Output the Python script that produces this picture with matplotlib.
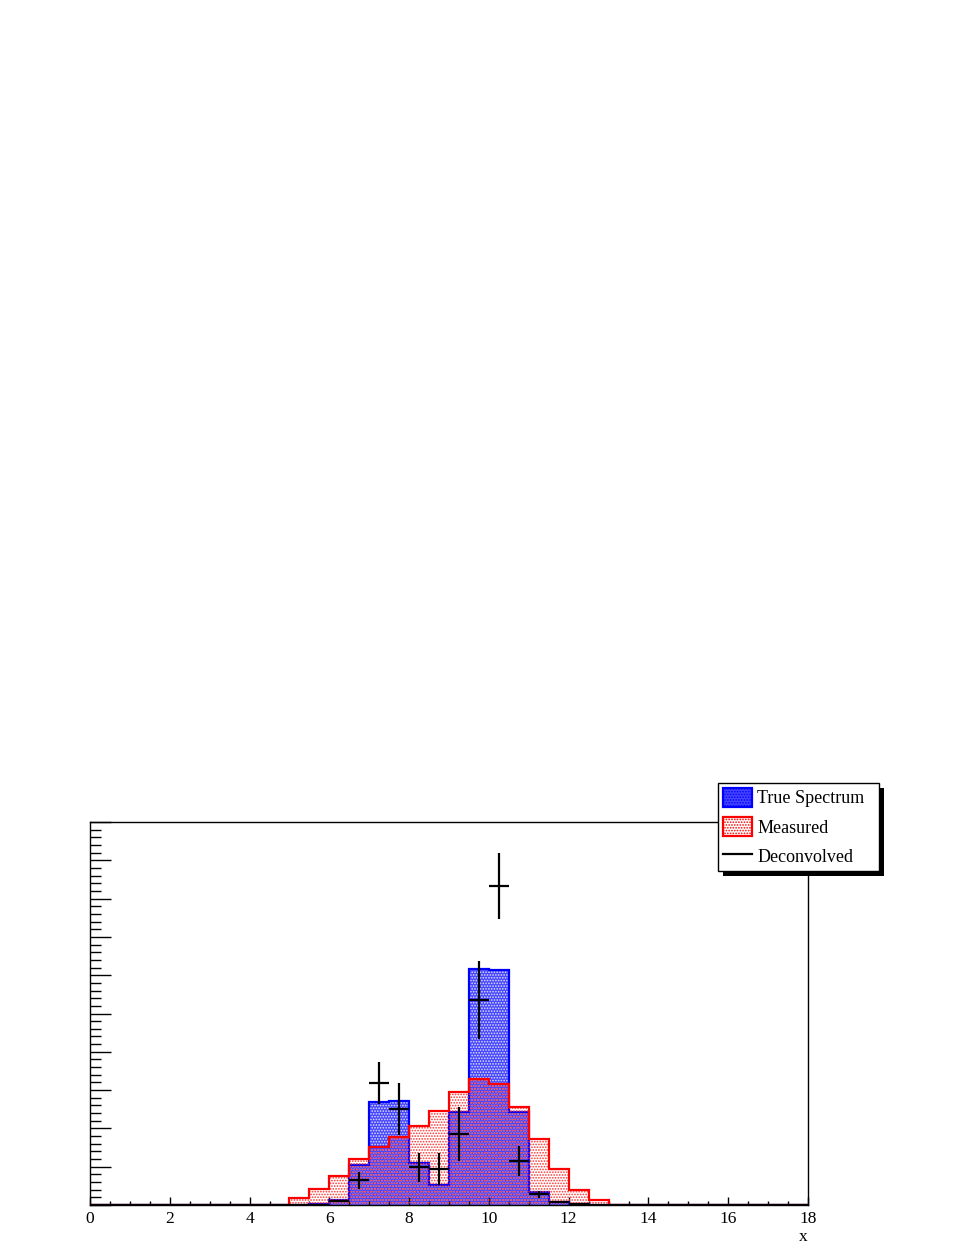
import numpy as np
import matplotlib
matplotlib.use("Agg")
import matplotlib.pyplot as plt
from matplotlib.patches import Patch, Rectangle
from matplotlib.lines import Line2D
from matplotlib.ticker import MultipleLocator

plt.rcParams['font.family'] = ['Liberation Serif', 'DejaVu Serif']
plt.rcParams['hatch.linewidth'] = 0.8

# 36 bins of width 0.5 between 0 and 18
bin_edges = np.arange(0, 18.5, 0.5)

true_spectrum = [0] * 11 + [0.02, 0.13, 1.04, 2.70, 2.72, 1.10, 0.52, 2.44, 6.17, 6.13,
                            2.42, 0.35, 0.08, 0.02] + [0] * 11
measured = [0] * 10 + [0.18, 0.42, 0.76, 1.19, 1.52, 1.78, 2.06, 2.46, 2.94, 3.28, 3.16,
                       2.55, 1.72, 0.94, 0.39, 0.13] + [0] * 10
deconvolved = [0] * 12 + [0.11, 0.65, 3.18, 2.51, 0.98, 0.94, 1.85, 5.35, 8.34, 1.16,
                          0.28, 0.07, 0.02] + [0] * 11
deconvolved_err = [0] * 12 + [0.03, 0.22, 0.55, 0.67, 0.37, 0.41, 0.70, 1.02, 0.86, 0.39,
                              0.09, 0.03, 0.01] + [0] * 11

centers = 0.5 * (bin_edges[:-1] + bin_edges[1:])

fig = plt.figure(figsize=(9.69, 12.54), dpi=100)
ax = fig.add_axes([90 / 969, 1 - 1205 / 1254, 718 / 969, 383 / 1254])

# true spectrum: blue with white dots
ax.stairs(true_spectrum, bin_edges, fill=True, facecolor='#4646ff', edgecolor='#e0e0ff',
          hatch='......', linewidth=0, zorder=1)
ax.stairs(true_spectrum, bin_edges, color='blue', linewidth=1.6, zorder=2)

# measured: red dots on transparent background
ax.stairs(measured, bin_edges, fill=True, facecolor='none', edgecolor='#ff3030',
          hatch='......', linewidth=0, zorder=3)
ax.stairs(measured, bin_edges, color='red', linewidth=1.6, zorder=4)

ax.errorbar(centers, deconvolved, xerr=0.25, yerr=deconvolved_err, fmt='none',
            ecolor='black', elinewidth=1.6, capsize=0, zorder=5)

ax.set_xlim(0, 18)
ax.set_ylim(0, 10)
ax.xaxis.set_major_locator(MultipleLocator(2))
ax.xaxis.set_minor_locator(MultipleLocator(0.5))
ax.yaxis.set_major_locator(MultipleLocator(1))
ax.yaxis.set_minor_locator(MultipleLocator(0.2))
ax.tick_params(axis='x', which='both', direction='in', top=False, labelsize=12.5, pad=4)
ax.tick_params(axis='x', which='major', length=6, width=1)
ax.tick_params(axis='x', which='minor', length=3, width=1)
ax.tick_params(axis='y', which='both', direction='in', right=False, labelleft=False)
ax.tick_params(axis='y', which='major', length=15, width=1)
ax.tick_params(axis='y', which='minor', length=8, width=1)
for s in ax.spines.values():
    s.set_linewidth(1)
ax.set_xlabel('x', loc='right', fontsize=12.5, labelpad=2)

handles = [
    Patch(facecolor='#4646ff', edgecolor='blue', hatch='......', linewidth=1.6),
    Patch(facecolor='white', edgecolor='red', hatch='......', linewidth=1.6),
    Line2D([], [], color='black', linewidth=1.6),
]
labels = ['True Spectrum', 'Measured', 'Deconvolved']
leg = fig.legend(handles, labels, loc='upper left', mode='expand',
                 bbox_to_anchor=(718 / 969, 1 - 869 / 1254, 161 / 969, 86 / 1254),
                 borderaxespad=0, fontsize=13, frameon=True, fancybox=False,
                 edgecolor='black', framealpha=1, handlelength=1.6, handleheight=1.2,
                 labelspacing=0.55, handletextpad=0.3, borderpad=0.28)
leg.get_frame().set_linewidth(1)

fig.canvas.draw()
bb = leg.get_window_extent()
shadow = Rectangle((bb.x0 + 5, bb.y0 - 5), bb.width, bb.height, transform=None,
                   facecolor='black', edgecolor='none', zorder=4)
fig.patches.append(shadow)

fig.savefig('out.png', dpi=100)
